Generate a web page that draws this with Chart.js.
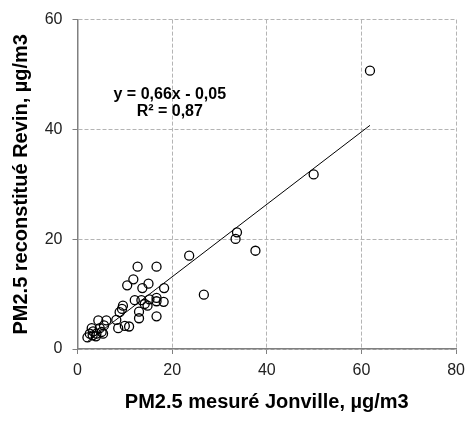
<!DOCTYPE html>
<html>
<head>
<meta charset="utf-8">
<script src="https://cdn.jsdelivr.net/npm/chart.js@4/dist/chart.umd.min.js"></script>
<style>
  html, body { margin: 0; padding: 0; background: #fff; }
  #wrap { width: 472px; height: 422px; }
</style>
</head>
<body>
<div id="wrap"><canvas id="c"></canvas></div>
<script>
// PM2.5 mesuré Jonville (x) vs reconstitué Revin (y), µg/m3
const jonville = [23.6, 12.7, 16.7, 11.8, 10.5, 15.0, 13.7, 18.3, 26.7, 12.1,
                  13.5, 15.2, 16.7, 16.7, 18.2, 14.2, 14.8, 9.6, 9.4, 8.9,
                  13.0, 16.7, 13.0, 8.2, 4.4, 6.1, 5.6, 8.6, 10.0, 10.9,
                  3.0, 4.7, 3.3, 5.1, 4.0, 5.4, 3.2, 2.1, 3.9, 2.6,
                  33.7, 33.4, 37.6, 61.8, 49.9];
const revin    = [17.0, 15.0, 15.0, 12.7, 11.6, 11.9, 11.1, 11.1, 9.9, 8.9,
                  8.9, 9.05, 9.3, 8.7, 8.6, 8.2, 7.9, 7.9, 7.3, 6.7,
                  6.8, 5.95, 5.6, 5.3, 5.2, 5.2, 4.3, 3.8, 4.2, 4.1,
                  3.8, 3.8, 3.2, 3.1, 2.8, 2.8, 2.5, 2.1, 2.3, 2.8,
                  21.25, 20.05, 17.9, 50.7, 31.8];

// regression y = 0,66x - 0,05 ; R² = 0,87
const slope = 0.66;
const intercept = -0.05;
const fitLabels = ['y = 0,66x - 0,05', 'R\u00b2 = 0,87'];

const xTicks = [0, 20, 40, 60, 80];
const yTicks = [0, 20, 40, 60];

const points = jonville.map((x, i) => ({ x: x, y: revin[i] }));
const xMin = Math.min(...jonville), xMax = Math.max(...jonville);
const fitLine = [
  { x: xMin, y: slope * xMin + intercept },
  { x: xMax, y: slope * xMax + intercept }
];

const FONT = '"Liberation Sans", Arial, sans-serif';

const fitText = {
  id: 'fitText',
  afterDatasetsDraw(chart) {
    const { ctx, scales } = chart;
    const cx = scales.x.getPixelForValue(19.5);
    const cy = scales.y.getPixelForValue(46.3);
    ctx.save();
    ctx.fillStyle = '#000';
    ctx.font = 'bold 16px ' + FONT;
    ctx.textAlign = 'center';
    ctx.textBaseline = 'middle';
    ctx.fillText(fitLabels[0], cx, cy);
    ctx.fillText(fitLabels[1], cx, cy + 17);
    ctx.restore();
  }
};

const gridCommon = {
  color: '#b4b4b4',
  lineWidth: 1,
  tickLength: 5,
  tickColor: '#808080',
  tickWidth: 1,
  tickBorderDash: []
};

new Chart(document.getElementById('c'), {
  type: 'scatter',
  data: {
    datasets: [
      {
        data: points,
        pointStyle: 'circle',
        pointRadius: 4.5,
        pointBorderWidth: 1.3,
        pointBorderColor: '#000',
        pointBackgroundColor: 'rgba(0,0,0,0)',
        order: 1
      },
      {
        type: 'line',
        data: fitLine,
        borderColor: '#000',
        borderWidth: 1,
        pointRadius: 0,
        fill: false,
        order: 2
      }
    ]
  },
  options: {
    responsive: true,
    maintainAspectRatio: false,
    animation: false,
    layout: { padding: { top: 14, right: 12, bottom: 0, left: 0 } },
    plugins: { legend: { display: false }, tooltip: { enabled: false } },
    scales: {
      x: {
        type: 'linear',
        min: 0, max: 80,
        afterBuildTicks: s => { s.ticks = xTicks.map(v => ({ value: v })); },
        afterFit: s => { s.height = 73; },
        grid: gridCommon,
        border: { color: '#808080', width: 1.5, dash: [4, 2] },
        ticks: {
          color: '#222',
          padding: 7,
          font: { family: FONT, size: 16 }
        },
        title: {
          display: true,
          text: 'PM2.5 mesuré Jonville, µg/m3',
          color: '#000',
          padding: { top: 0, bottom: 8 },
          font: { family: FONT, size: 20, weight: 'bold' }
        }
      },
      y: {
        type: 'linear',
        min: 0, max: 60,
        afterBuildTicks: s => { s.ticks = yTicks.map(v => ({ value: v })); },
        afterFit: s => { s.width = 77.5; },
        grid: gridCommon,
        border: { color: '#808080', width: 1.5, dash: [4, 2] },
        ticks: {
          color: '#222',
          padding: 10,
          font: { family: FONT, size: 16 }
        },
        title: {
          display: true,
          text: 'PM2.5 reconstitué Revin, µg/m3',
          color: '#000',
          padding: { top: 9, bottom: 0 },
          font: { family: FONT, size: 20, weight: 'bold' }
        }
      }
    }
  },
  plugins: [fitText]
});
</script>
</body>
</html>
